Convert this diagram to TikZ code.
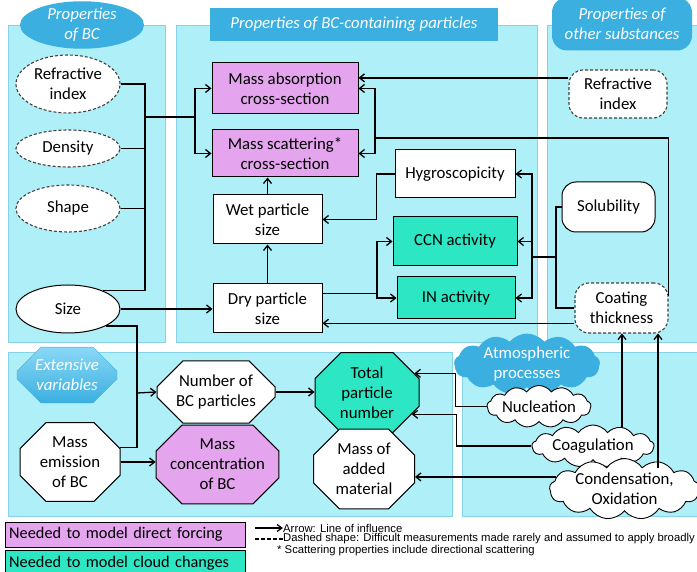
\documentclass[tikz,border=0pt]{standalone}
\usepackage{fontspec}
\setmainfont{Carlito}
\newfontfamily\arialf{Liberation Sans}
\usetikzlibrary{shapes.geometric,shapes.misc,shapes.symbols,arrows.meta}
\definecolor{panelc}{HTML}{AEEFF8}
\definecolor{panelb}{HTML}{86D3E8}
\definecolor{hdr}{HTML}{3AAFE0}
\definecolor{hdrl}{HTML}{8AD8F6}
\definecolor{pinkc}{HTML}{E4A4EE}
\definecolor{greenc}{HTML}{2DE6C4}
\begin{document}
\begin{tikzpicture}[x=1pt,y=-1pt,
  font=\fontsize{16.8}{20}\selectfont,
  panel/.style={draw=panelb,fill=panelc,line width=0.8pt},
  ln/.style={line width=1.3pt},
  arr/.style={line width=1.3pt,-{Straight Barb[length=5pt,width=8pt,line width=1.3pt]}},
  base/.style={draw,line width=1pt,align=center,inner sep=1pt,fill=white},
  box/.style={base,rectangle},
  rbox/.style={base,rectangle,rounded corners=14pt},
  dsh/.style={dash pattern=on 3pt off 2pt, draw=black!75, line width=1.1pt},
  ell/.style={base,ellipse,minimum width=104pt},
  oct/.style={base,chamfered rectangle,chamfered rectangle xsep=13pt,chamfered rectangle ysep=13pt},
  cld/.style={base,cloud,cloud puffs=13,cloud puff arc=110,cloud ignores aspect,inner sep=0pt,line width=0.9pt},
  hd/.style={align=center,text=white,font=\fontsize{16.8}{20}\selectfont\itshape,inner sep=1pt},
  pink/.style={fill=pinkc},
  green/.style={fill=greenc}
]
\useasboundingbox (0,0) rectangle (697,572);
% panels
\fill[white] (0,0) rectangle (697,572);
\draw[panel] (8,25) rectangle (165,342);
\draw[panel] (176,25) rectangle (537,342);
\draw[panel] (547,25) rectangle (699,342);
\draw[panel] (8,352) rectangle (452,516);
\draw[panel] (462,352) rectangle (699,516);
% headers
\node[hd,ellipse,fill=hdr,minimum width=124pt,minimum height=46pt,inner sep=0pt] (h1) at (82,25) {Properties\\of BC};
\node[hd,rectangle,fill=hdr,minimum width=288pt,minimum height=33pt] (h2) at (354,24.5) {Properties of BC-containing particles};
\node[hd,rectangle,rounded corners=15pt,fill=hdr,minimum width=140pt,minimum height=53pt] (h3) at (622,24) {Properties of\\other substances};
\node[hd,chamfered rectangle,chamfered rectangle xsep=12pt,chamfered rectangle ysep=12pt,top color=hdrl,bottom color=hdr,draw=hdr,minimum width=100pt,minimum height=46pt,inner sep=0pt] (h4) at (67,375) {Extensive\\variables};
\node[cloud,cloud puffs=13,cloud puff arc=100,cloud ignores aspect,fill=hdr,minimum width=146pt,minimum height=44pt,align=center,text=white,inner sep=0pt] (h5) at (527,364) {Atmospheric\\processes};
% BC properties
\node[ell,dsh,minimum height=58pt] (refbc) at (68,84) {Refractive\\index};
\node[ell,dsh,minimum height=37pt] (dens) at (68,148.5) {Density};
\node[ell,dsh,minimum height=47pt] (shape) at (68,208.5) {Shape};
\node[ell,minimum height=48pt] (size) at (68,309) {Size};
% particle properties
\node[box,pink,minimum width=146pt,minimum height=51pt] (mabs) at (285,88.5) {Mass absorption\\cross-section};
\node[box,pink,minimum width=146pt,minimum height=47pt] (mscat) at (285,153.5) {Mass scattering*\\cross-section};
\node[box,minimum width=109pt,minimum height=49pt] (wet) at (267.5,219.5) {Wet particle\\size};
\node[box,minimum width=109pt,minimum height=49pt] (dry) at (267.5,308.5) {Dry particle\\size};
\node[box,minimum width=120pt,minimum height=48pt] (hyg) at (455,174) {Hygroscopicity};
\node[box,green,minimum width=124pt,minimum height=49pt] (ccn) at (455,241.5) {CCN activity};
\node[box,green,minimum width=118pt,minimum height=42pt] (inact) at (456,298) {IN activity};
% other substances
\node[rbox,dsh,minimum width=98pt,minimum height=48pt] (refot) at (618,94) {Refractive\\index};
\node[rbox,minimum width=93pt,minimum height=50pt] (solub) at (608.5,207) {Solubility};
\node[rbox,dsh,minimum width=93pt,minimum height=50pt] (coat) at (621.5,308) {Coating\\thickness};
% extensive
\node[oct,minimum width=118pt,minimum height=50pt] (num) at (216,392) {Number of\\BC particles};
\node[oct,minimum width=100pt,minimum height=66pt] (memis) at (70,462) {Mass\\emission\\of BC};
\node[oct,pink,minimum width=121pt,minimum height=65pt] (mconc) at (217.5,464.5) {Mass\\concentration\\of BC};
\node[oct,green,minimum width=104pt,minimum height=61pt] (total) at (367,392.5) {Total\\particle\\number};
\node[oct,minimum width=101pt,minimum height=68pt] (madd) at (364,469) {Mass of\\added\\material};
% processes
\node[cld,minimum width=104pt,minimum height=42pt] (nuc) at (539,406.5) {Nucleation};
\node[cld,minimum width=122pt,minimum height=42pt] (coag) at (593,446) {Coagulation};
\node[cld,minimum width=150pt,minimum height=50pt] (cond) at (624.5,489) {Condensation,\\Oxidation};
% connectors: BC properties bus
\coordinate (b1) at (145,117);
\coordinate (b2) at (195,117);
\draw[ln] (refbc.east) -- (refbc.east -| b1) -- (size.28 -| b1) -- (size.28);
\draw[ln] (dens.east) -- (dens.east -| b1);
\draw[ln] (shape.east) -- (shape.east -| b1);
\draw[ln] (b1) -- (b2);
\draw[arr] (b2) |- (mabs.west);
\draw[arr] (b2) |- (mscat.west);
\draw[arr] (size.east) -- (size.east -| dry.west);
% size / mass emission -> number
\coordinate (b3) at (137,393);
\draw[ln] (size.-24) -| (b3);
\draw[ln] (memis.16) -| (b3);
\draw[arr] (b3) -- (num.west);
\draw[arr] (memis.east) -- (memis.east -| mconc.west);
\draw[arr] (num.east) -- (num.east -| total.west);
% particle chain
\draw[arr] (dry.north) -- (wet.south);
\draw[arr] (wet.north) -- (wet.north |- mscat.south);
\draw[arr] (hyg.west) -- ++(-18,0) |- (wet.east);
\coordinate (b5) at (377,297);
\draw[ln] (dry.15) -- (dry.15 -| b5);
\draw[arr] (dry.15 -| b5) |- (ccn.west);
\draw[arr] (dry.15 -| b5) |- (inact.west);
% right bus
\coordinate (b6) at (532,257);
\coordinate (b7) at (556,257);
\draw[arr] (b6) |- (hyg.east);
\draw[arr] (b6) |- (ccn.east);
\draw[arr] (b6) |- (inact.east);
\draw[ln] (b6) -- (b7);
\draw[ln] (solub.west) -| (b7) |- (coat.west);
\draw[arr] (coat.west |- dry.-15) -- (dry.-15);
% coating -> optical
\coordinate (b8) at (375,138);
\draw[ln] (coat.14) -- (coat.14 |- b8) -- (b8);
\draw[arr] (b8) |- (mabs.east);
\draw[arr] (b8) |- (mscat.east);
\draw[arr] (refot.162) -- (refot.162 -| mabs.east);
% processes
\draw[arr] (nuc.west) -- ++(-31,0) |- (total.22);
\draw[arr] (coag.west) -- ++(-75,0) |- (total.-26);
\draw[arr] (cond.170) -- (cond.170 -| madd.east);
\coordinate (k1) at (622,428);
\coordinate (k2) at (658,468);
\draw[arr] (k1) -- (k1 |- coat.south);
\draw[arr] (k2) -- (k2 |- coat.south);
% legend
\node[draw,fill=pinkc,minimum width=240pt,minimum height=25pt,anchor=north west,text width=232pt,align=left,inner sep=4pt,font=\fontsize{16.3}{19}\selectfont] (lg1) at (5,522) {Needed to model direct forcing};
\node[draw,fill=greenc,minimum width=240pt,minimum height=26pt,anchor=north west,text width=232pt,align=left,inner sep=4pt,font=\fontsize{16.3}{19}\selectfont] (lg2) at (5,550) {Needed to model cloud changes};
\coordinate (a1) at (255,528);
\coordinate (a2) at (283,528);
\coordinate (d1) at (255,539);
\coordinate (d2) at (283,539);
\draw[line width=1.2pt,-{Straight Barb[length=5pt,width=7pt,line width=1.2pt]}] (a1) -- (a2);
\draw[line width=1.2pt,dash pattern=on 4pt off 2pt] (d1) -- (d2);
\node[anchor=west,inner sep=0pt,font=\arialf\fontsize{11.3}{12}\selectfont] (t1) at (a2) {Arrow: Line of influence};
\node[anchor=west,inner sep=0pt,font=\arialf\fontsize{11.3}{12}\selectfont] (t2) at (d2) {Dashed shape: Difficult measurements made rarely and assumed to apply broadly};
\node[anchor=west,inner sep=0pt,font=\arialf\fontsize{11.3}{12}\selectfont] (t3) at (277,551) {* Scattering properties include directional scattering};
\end{tikzpicture}
\end{document}
